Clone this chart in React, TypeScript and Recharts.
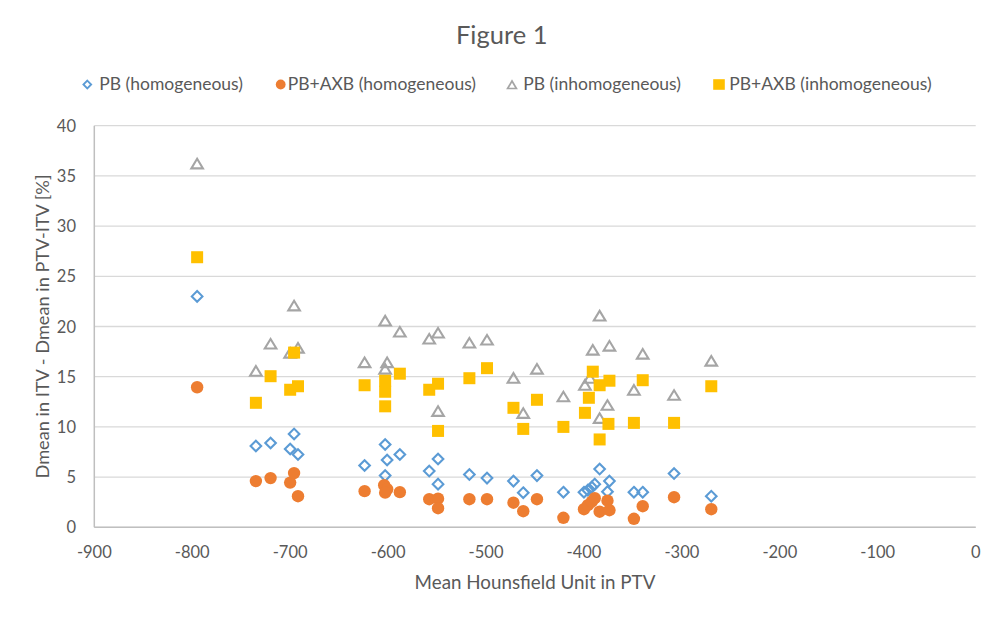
import React from 'react';
import { ScatterChart, Scatter, XAxis, YAxis, CartesianGrid } from 'recharts';

// ---- data ----
const X_TICKS = [-900, -800, -700, -600, -500, -400, -300, -200, -100, 0];
const Y_TICKS = [0, 5, 10, 15, 20, 25, 30, 35, 40];

const PB_HOM_X = [-795, -735, -720, -700, -696, -692, -624, -603, -601, -603, -588, -558, -549, -549, -517, -499, -472, -462, -448, -421, -400, -396, -392, -389, -384, -376, -374, -349, -340, -308, -270];
const PB_HOM_Y = [23.0, 8.1, 8.4, 7.8, 9.3, 7.25, 6.15, 8.25, 6.7, 5.15, 7.25, 5.6, 6.8, 4.3, 5.25, 4.9, 4.6, 3.45, 5.15, 3.5, 3.5, 3.7, 4.0, 4.3, 5.8, 3.55, 4.6, 3.5, 3.5, 5.35, 3.1];

const AXB_HOM_X = [-795, -735, -720, -700, -696, -692, -624, -604, -601, -603, -588, -558, -549, -549, -517, -499, -472, -462, -448, -421, -400, -396, -392, -389, -384, -376, -374, -349, -340, -308, -270];
const AXB_HOM_Y = [13.95, 4.6, 4.9, 4.45, 5.4, 3.1, 3.6, 4.2, 3.8, 3.45, 3.5, 2.8, 2.85, 1.9, 2.8, 2.8, 2.45, 1.6, 2.8, 0.95, 1.8, 2.2, 2.55, 2.9, 1.55, 2.65, 1.7, 0.85, 2.1, 3.0, 1.8];

const PB_INH_X = [-795, -735, -720, -700, -696, -692, -624, -603, -601, -603, -588, -558, -549, -549, -517, -499, -472, -462, -448, -421, -399, -394, -391, -384, -384, -376, -374, -349, -340, -308, -270];
const PB_INH_Y = [36.25, 15.6, 18.3, 17.4, 22.1, 17.9, 16.45, 20.6, 16.45, 15.8, 19.5, 18.8, 19.4, 11.6, 18.4, 18.7, 14.9, 11.4, 15.8, 13.05, 14.2, 14.9, 17.7, 21.1, 10.9, 12.2, 18.1, 13.7, 17.3, 13.2, 16.6];

const AXB_INH_X = [-795, -735, -720, -700, -696, -692, -624, -603, -603, -603, -588, -558, -549, -549, -517, -499, -472, -462, -448, -421, -399, -395, -391, -384, -384, -375, -374, -349, -340, -308, -270];
const AXB_INH_Y = [26.9, 12.4, 15.05, 13.7, 17.4, 14.05, 14.15, 14.6, 13.5, 12.05, 15.3, 13.7, 14.3, 9.6, 14.85, 15.85, 11.9, 9.8, 12.7, 10.0, 11.4, 12.9, 15.5, 14.15, 8.75, 10.3, 14.6, 10.4, 14.65, 10.4, 14.05];

const SERIES_NAMES = ['PB (homogeneous)', 'PB+AXB (homogeneous)', 'PB (inhomogeneous)', 'PB+AXB (inhomogeneous)'];

const zip = (xs: number[], ys: number[]) => xs.map((x, i) => ({ x, y: ys[i] }));

const pbHom = zip(PB_HOM_X, PB_HOM_Y);
const axbHom = zip(AXB_HOM_X, AXB_HOM_Y);
const pbInh = zip(PB_INH_X, PB_INH_Y);
const axbInh = zip(AXB_INH_X, AXB_INH_Y);

// ---- style ----
const W = 1004;
const H = 620;
const PLOT_LEFT = 94.3;
const PLOT_RIGHT = 975.7;
const PLOT_TOP = 125.7;
const PLOT_BOTTOM = 527.3;
const FONT = 'Lato, "Open Sans", sans-serif';
const TEXT = '#595959';
const BLUE = '#5b9bd5';
const ORANGE = '#ed7d31';
const GRAY = '#a5a5a5';
const GOLD = '#ffc000';

const diamondPath = (cx: number, cy: number, r: number) =>
  `M${cx},${cy - r}L${cx + r},${cy}L${cx},${cy + r}L${cx - r},${cy}Z`;
const trianglePath = (cx: number, cy: number, hw: number, up: number, down: number) =>
  `M${cx},${cy - up}L${cx + hw},${cy + down}L${cx - hw},${cy + down}Z`;

const DiamondShape = (p: any) => (
  <path d={diamondPath(p.cx, p.cy, 5.3)} fill="none" stroke={BLUE} strokeWidth={2.1} />
);
const CircleShape = (p: any) => <circle cx={p.cx} cy={p.cy} r={6.2} fill={ORANGE} />;
const TriangleShape = (p: any) => (
  <path d={trianglePath(p.cx, p.cy, 5.8, 4.6, 5.0)} fill="none" stroke={GRAY} strokeWidth={2.1} />
);
const SquareShape = (p: any) => (
  <rect x={p.cx - 6} y={p.cy - 6} width={12} height={12} fill={GOLD} />
);

const XTick = (p: any) => (
  <text x={p.x} y={p.y + 31} textAnchor="middle" fill={TEXT} fontSize={16.5} fontFamily={FONT}>
    {p.payload.value}
  </text>
);
const YTick = (p: any) => (
  <text x={p.x - 18.3} y={p.y + 6} textAnchor="end" fill={TEXT} fontSize={16.5} fontFamily={FONT}>
    {p.payload.value}
  </text>
);

const XLabel = (p: any) => {
  const vb = p.viewBox || {};
  return (
    <text x={vb.x + vb.width / 2} y={589} textAnchor="middle" fill={TEXT} fontSize={18.8} fontFamily={FONT}>
      Mean Hounsfield Unit in PTV
    </text>
  );
};
const YLabel = (p: any) => {
  const vb = p.viewBox || {};
  const cy = vb.y + vb.height / 2;
  return (
    <text
      x={49}
      y={cy}
      transform={`rotate(-90 49 ${cy})`}
      textAnchor="middle"
      fill={TEXT}
      fontSize={18.2}
      fontFamily={FONT}
    >
      Dmean in ITV - Dmean in PTV-ITV [%]
    </text>
  );
};

const LEGEND_ICON_X = [87.3, 280.7, 512, 719];
const LEGEND_TEXT_X = [99.3, 287.7, 523.3, 729.3];

const LegendIcon = ({ i, x, y }: { i: number; x: number; y: number }) => {
  if (i === 0) return <path d={diamondPath(x, y, 3.9)} fill="none" stroke={BLUE} strokeWidth={1.8} />;
  if (i === 1) return <circle cx={x} cy={y} r={4.9} fill={ORANGE} />;
  if (i === 2) return <path d={trianglePath(x, y, 4.4, 3.5, 4.0)} fill="none" stroke={GRAY} strokeWidth={1.7} />;
  return <rect x={x - 5.8} y={y - 5.3} width={11.6} height={10.6} fill={GOLD} />;
};

export default function App() {
  return (
    <div style={{ position: 'absolute', left: 0, top: 0, width: W, height: H, background: '#ffffff' }}>
      <ScatterChart
        width={W}
        height={H}
        margin={{ top: PLOT_TOP, right: W - PLOT_RIGHT, bottom: 0, left: 0 }}
      >
        <CartesianGrid vertical={false} stroke="#d9d9d9" strokeWidth={1.3} />
        <XAxis
          type="number"
          dataKey="x"
          domain={[-900, 0]}
          ticks={X_TICKS}
          interval={0}
          height={H - PLOT_BOTTOM}
          tickLine={false}
          tickSize={0}
          tickMargin={0}
          axisLine={{ stroke: '#bfbfbf', strokeWidth: 1.5 }}
          tick={<XTick />}
          label={{ content: XLabel }}
        />
        <YAxis
          type="number"
          dataKey="y"
          domain={[0, 40]}
          ticks={Y_TICKS}
          interval={0}
          width={PLOT_LEFT}
          tickLine={false}
          tickSize={0}
          tickMargin={0}
          axisLine={{ stroke: '#bfbfbf', strokeWidth: 1.5 }}
          tick={<YTick />}
          label={{ content: YLabel }}
        />
        <Scatter name={SERIES_NAMES[0]} data={pbHom} shape={DiamondShape} isAnimationActive={false} />
        <Scatter name={SERIES_NAMES[1]} data={axbHom} shape={CircleShape} isAnimationActive={false} />
        <Scatter name={SERIES_NAMES[2]} data={pbInh} shape={TriangleShape} isAnimationActive={false} />
        <Scatter name={SERIES_NAMES[3]} data={axbInh} shape={SquareShape} isAnimationActive={false} />
      </ScatterChart>
      <svg
        width={W}
        height={110}
        style={{ position: 'absolute', left: 0, top: 0, pointerEvents: 'none' }}
      >
        <text x={501.7} y={44.3} textAnchor="middle" fill={TEXT} fontSize={25.5} fontFamily={FONT}>
          Figure 1
        </text>
        {SERIES_NAMES.map((name, i) => (
          <g key={name}>
            <LegendIcon i={i} x={LEGEND_ICON_X[i]} y={84.5} />
            <text x={LEGEND_TEXT_X[i]} y={90} fill={TEXT} fontSize={17.5} fontFamily={FONT}>
              {name}
            </text>
          </g>
        ))}
      </svg>
    </div>
  );
}
